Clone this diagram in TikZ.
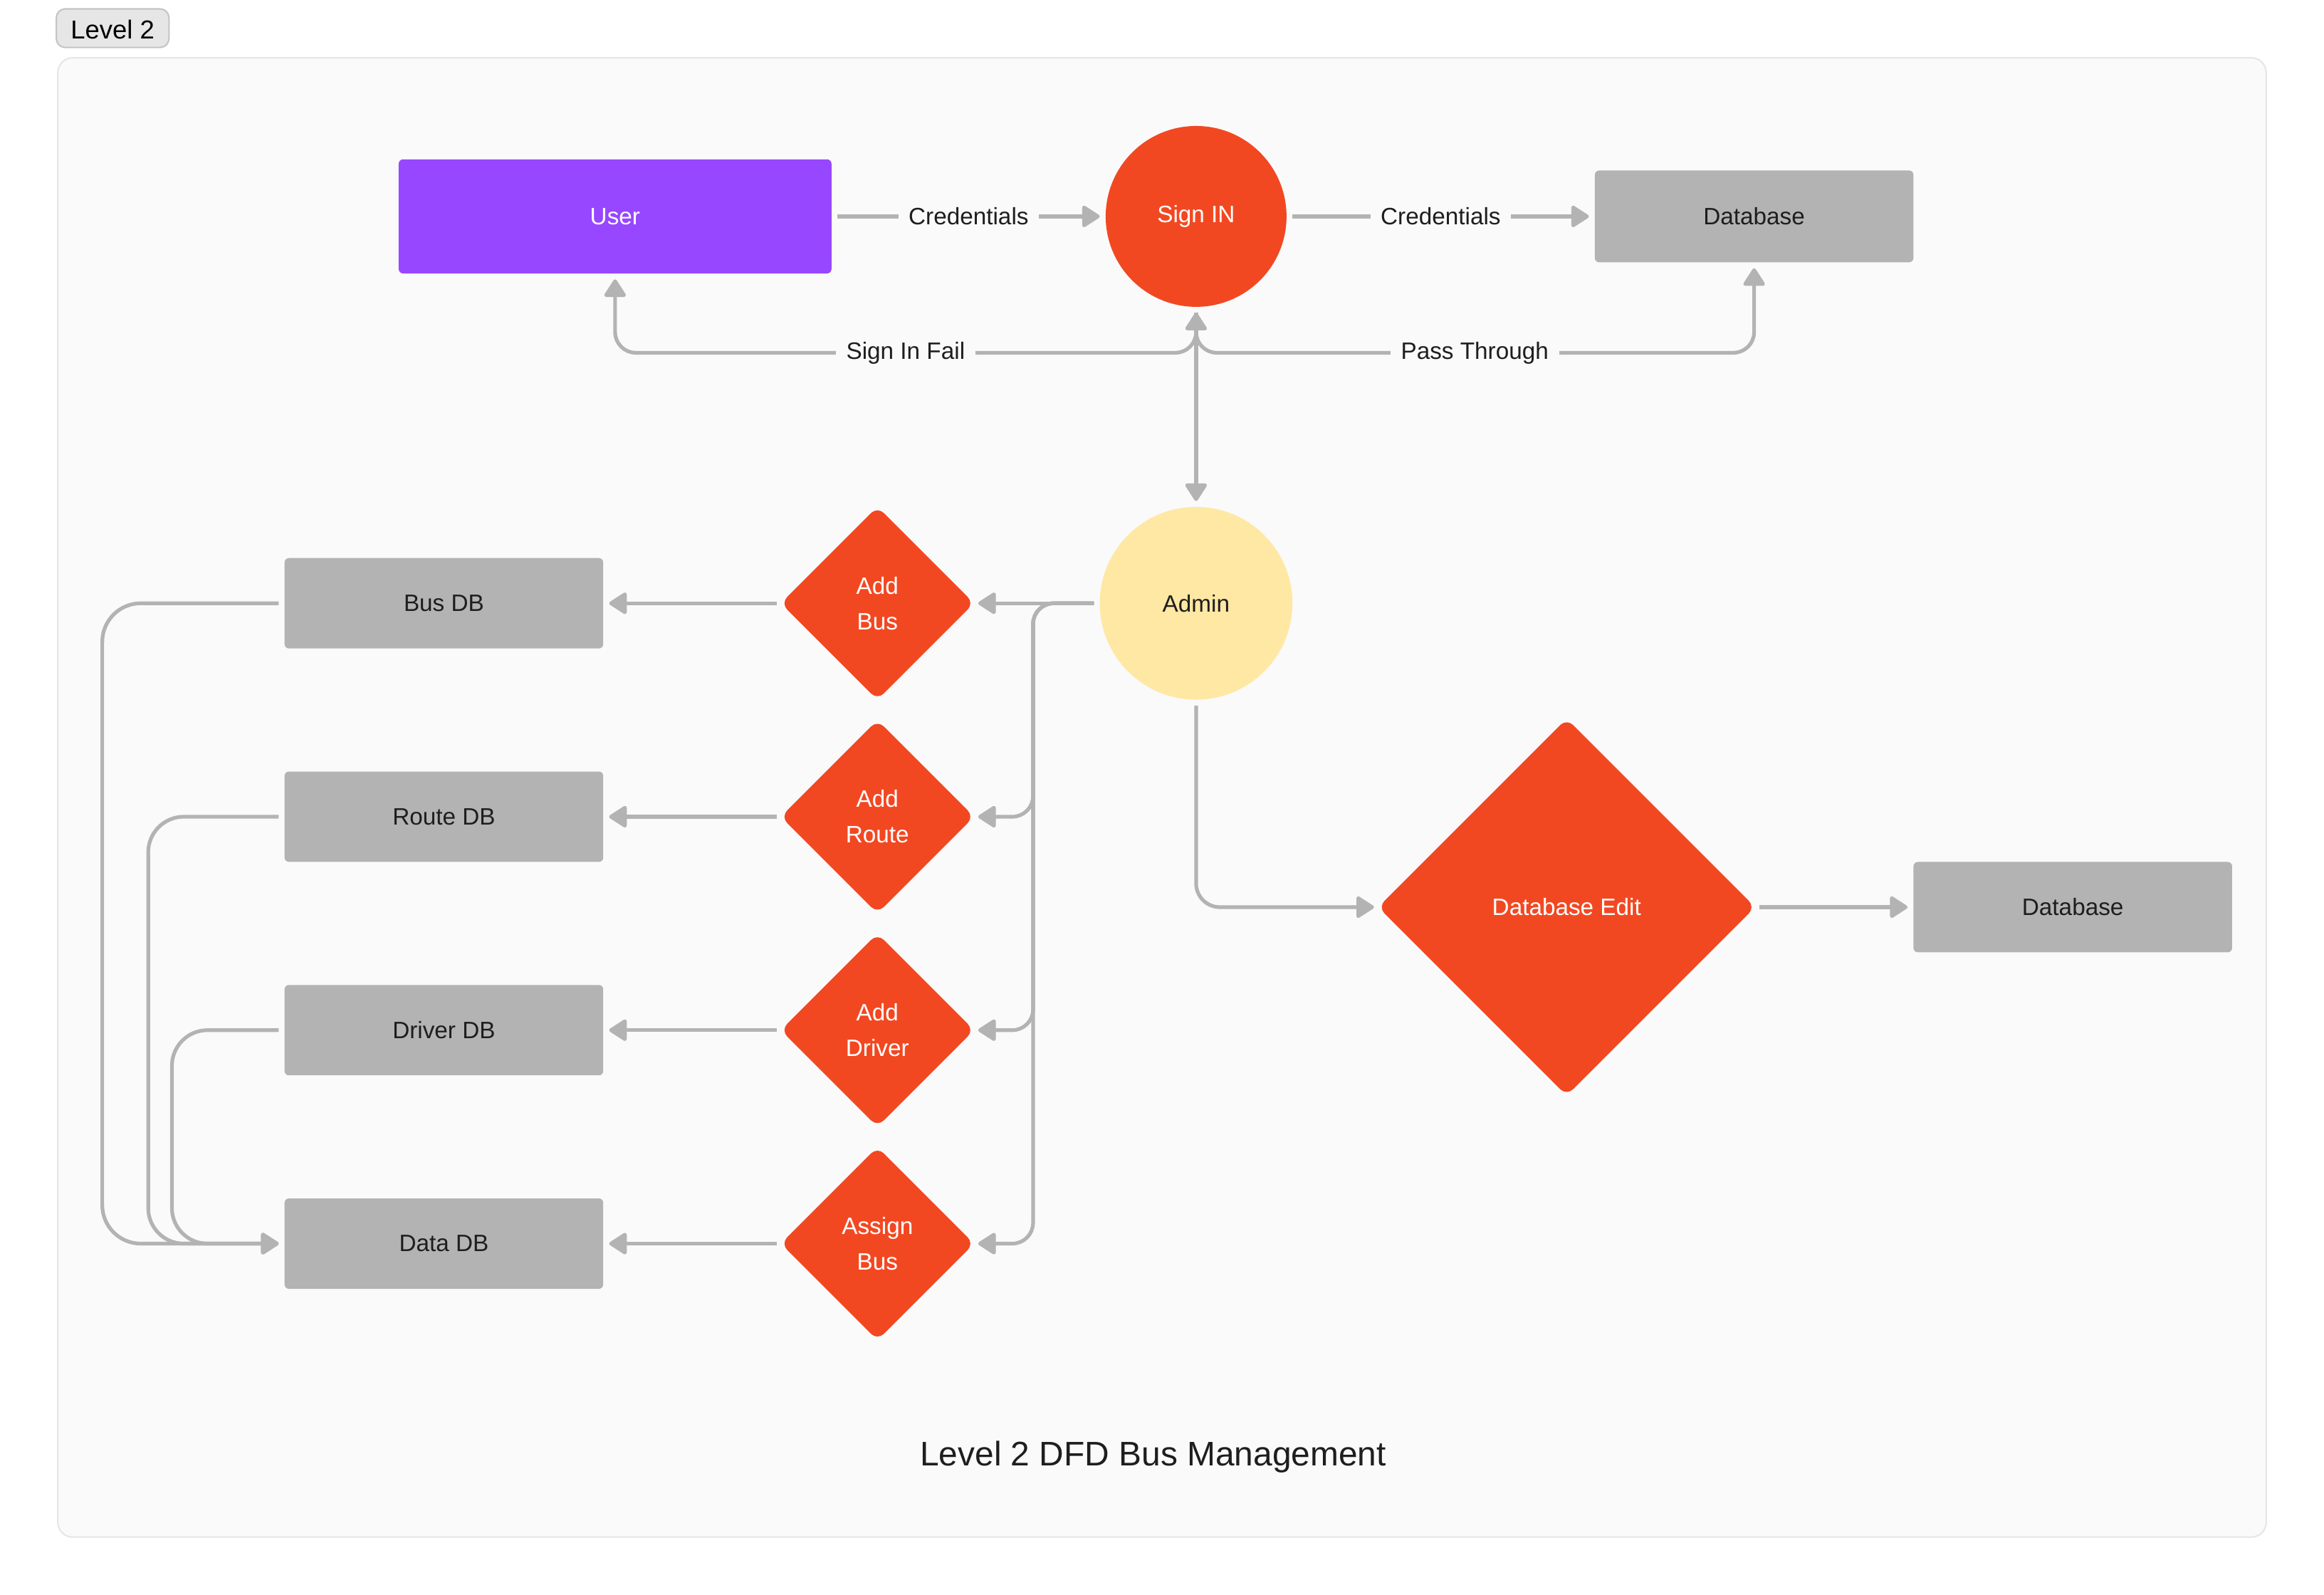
\documentclass[tikz,border=0pt]{standalone}
\usepackage{fontspec}
\setmainfont{Liberation Sans}
\usetikzlibrary{shapes.geometric,arrows.meta}
\definecolor{bg}{HTML}{FAFAFA}
\definecolor{frameline}{HTML}{E6E6E6}
\definecolor{tagfill}{HTML}{E6E6E6}
\definecolor{tagline}{HTML}{C4C4C4}
\definecolor{cgray}{HTML}{B3B3B3}
\definecolor{cpurple}{HTML}{9747FF}
\definecolor{cred}{HTML}{F24822}
\definecolor{cyellow}{HTML}{FFE8A3}
\definecolor{ctext}{HTML}{1E1E1E}
\newcommand{\labfont}{\fontsize{16}{24}\selectfont}
\begin{document}
\begin{tikzpicture}[x=1pt,y=-1pt,
  conn/.style={draw=cgray, line width=2.5pt, -{Triangle[length=13pt,width=16pt,round]}},
  biconn/.style={draw=cgray, line width=2.5pt, {Triangle[length=13pt,width=16pt,round]}-{Triangle[length=13pt,width=16pt,round]}},
  dbbox/.style={rectangle, rounded corners=3pt, fill=cgray, minimum width=215pt, minimum height=61pt, text=ctext, font=\labfont, outer sep=4pt},
  decision/.style={diamond, fill=cred, aspect=1, minimum width=132pt, minimum height=132pt, inner sep=0pt, rounded corners=6pt, text=white, align=center, font=\labfont, outer sep=2pt},
  procc/.style={circle, inner sep=0pt, font=\labfont, outer sep=4pt},
  lbl/.style={fill=bg, inner xsep=7pt, inner ysep=3pt, text=ctext, font=\labfont}
]
\useasboundingbox (0,0) rectangle (1568,1076);
\fill[white] (0,0) rectangle (1568,1076);
% frame
\draw[fill=bg, draw=frameline, line width=1pt, rounded corners=10pt] (39,39) rectangle (1529,1037);
% tag
\draw[fill=tagfill, draw=tagline, line width=1pt, rounded corners=6pt] (38,6) rectangle (114,32);
\node[text=black, font=\fontsize{17.5}{20}\selectfont] (tag) at (76,20) {Level 2};

% nodes
\node[rectangle, rounded corners=3pt, fill=cpurple, minimum width=292pt, minimum height=77pt, text=white, font=\labfont, outer sep=4pt] (user) at (415,146) {User};
\node[procc, fill=cred, minimum size=122pt, text=white] (signin) at (807,146) {Sign IN};
\node[dbbox, minimum height=62pt] (db1) at (1183.5,146) {Database};
\node[procc, fill=cyellow, minimum size=130pt, text=ctext] (admin) at (807,407) {Admin};

\node[decision] (addbus) at (592,407) {Add\\Bus};
\node[decision] (addroute) at (592,551) {Add\\Route};
\node[decision] (adddriver) at (592,695) {Add\\Driver};
\node[decision] (assignbus) at (592,839) {Assign\\Bus};

\node[dbbox] (busdb) at (299.5,407) {Bus DB};
\node[dbbox] (routedb) at (299.5,551) {Route DB};
\node[dbbox] (driverdb) at (299.5,695) {Driver DB};
\node[dbbox] (datadb) at (299.5,839) {Data DB};

\node[decision, minimum width=256pt, minimum height=256pt] (dbedit) at (1057,612) {Database Edit};
\node[dbbox] (db2) at (1398.5,612) {Database};

\node[text=ctext, font=\fontsize{23}{28}\selectfont] (title) at (778,983) {Level 2 DFD Bus Management};

% top connectors
\draw[conn] (user.east) -- node[lbl] (l1) {Credentials} (signin.west);
\draw[conn] (signin.east) -- node[lbl] (l2) {Credentials} (db1.west);
\draw[conn, rounded corners=14pt] (signin.south) -- (807,238) -- (415,238) -- (user.south);
\draw[conn, rounded corners=14pt] (signin.south) -- (807,238) -- (1183.5,238) -- (db1.south);
\node[lbl] (l3) at (611,238) {Sign In Fail};
\node[lbl] (l4) at (995,238) {Pass Through};
\draw[biconn] (signin.south) -- (admin.north);

% admin to decisions
\draw[conn] (admin.west) -- (addbus.east);
\draw[conn, rounded corners=14pt] (admin.west) -- (697,407) -- (697,551) -- (addroute.east);
\draw[conn, rounded corners=14pt] (admin.west) -- (697,407) -- (697,695) -- (adddriver.east);
\draw[conn, rounded corners=14pt] (admin.west) -- (697,407) -- (697,839) -- (assignbus.east);

% decisions to dbs
\draw[conn] (addbus.west) -- (busdb.east);
\draw[conn] (addroute.west) -- (routedb.east);
\draw[conn] (adddriver.west) -- (driverdb.east);
\draw[conn] (assignbus.west) -- (datadb.east);

% dbs to data db
\draw[conn, rounded corners=26pt] (busdb.west) -- (69,407) -- (69,839) -- (datadb.west);
\draw[conn, rounded corners=24pt] (routedb.west) -- (100,551) -- (100,839) -- (datadb.west);
\draw[conn, rounded corners=24pt] (driverdb.west) -- (116,695) -- (116,839) -- (datadb.west);

% admin to database edit
\draw[conn, rounded corners=16pt] (admin.south) -- (807,612) -- (dbedit.west);
\draw[conn] (dbedit.east) -- (db2.west);
\end{tikzpicture}
\end{document}
